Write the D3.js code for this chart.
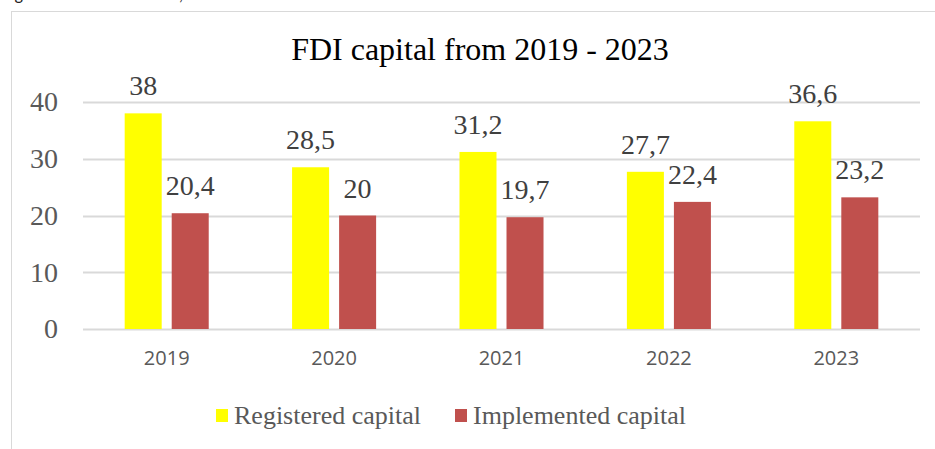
<!DOCTYPE html>
<html lang="en">
<head>
  <meta charset="UTF-8">
  <title>FDI capital from 2019 - 2023</title>
  <style>
  body { margin: 0; background: #fff; }
  </style>
</head>
<body>
  <div id="chart"></div>
  <script src="https://d3js.org/d3.v7.min.js"></script>
  <script>
// data
var years = ["2019", "2020", "2021", "2022", "2023"];
var registered = [38, 28.5, 31.2, 27.7, 36.6];
var implemented = [20.4, 20, 19.7, 22.4, 23.2];
var seriesNames = ["Registered capital", "Implemented capital"];
var seriesColors = ["#ffff00", "#c0504d"];
var yTicks = [0, 10, 20, 30, 40];

var w = 935, h = 449;
var plotLeft = 83, plotRight = 920, plotTop = 102, plotBottom = 329;
var serif = "'Liberation Serif', 'Times New Roman', serif";
var sans = "'Open Sans', 'Liberation Sans', sans-serif";

var svg = d3.select("#chart").append("svg")
    .attr("width", w)
    .attr("height", h);

// caption above the frame, mostly cut off by the page edge
svg.append("text")
    .attr("x", 2)
    .attr("y", 0)
    .style("font-family", "Carlito, 'Liberation Sans', sans-serif")
    .style("font-size", "18px")
    .attr("fill", "#222")
    .text("Figure 1. FDI investment, from 2019 to 2023");

// chart frame
svg.append("rect")
    .attr("x", 11.5)
    .attr("y", 11.5)
    .attr("width", 960)
    .attr("height", 480)
    .attr("fill", "none")
    .attr("stroke", "#d9d9d9");

var x0 = d3.scaleBand().domain(years).range([plotLeft, plotRight]).paddingInner(0.498).paddingOuter(0.249);
var x1 = d3.scaleBand().domain([0, 1]).range([0, x0.bandwidth()]).paddingInner(0.213);
var y = d3.scaleLinear().domain([0, 40]).range([plotBottom, plotTop]);

// gridlines
svg.append("g").selectAll("line")
    .data(yTicks).enter()
    .append("line")
    .attr("x1", plotLeft).attr("x2", plotRight)
    .attr("y1", function(d) { return Math.round(y(d)) + 0.5; })
    .attr("y2", function(d) { return Math.round(y(d)) + 0.5; })
    .attr("stroke", "#d9d9d9")
    .attr("stroke-width", 2);

// y axis labels
var yAxis = d3.axisLeft(y).tickValues(yTicks).tickSize(0).tickPadding(0);
var gy = svg.append("g")
    .attr("transform", "translate(58,0)")
    .call(yAxis)
    .attr("font-family", null)
    .attr("font-size", null);
gy.select(".domain").remove();
gy.selectAll("text")
    .style("font-size", "28px")
    .style("font-family", serif)
    .attr("fill", "#595959")
    .attr("dy", "0.32em");

// x axis labels
var xAxis = d3.axisBottom(x0).tickSize(0).tickPadding(0);
var gx = svg.append("g")
    .attr("transform", "translate(0," + (plotBottom + 22) + ")")
    .call(xAxis)
    .attr("font-family", null)
    .attr("font-size", null);
gx.select(".domain").remove();
gx.selectAll("text")
    .style("font-family", sans)
    .style("font-size", "20px")
    .attr("fill", "#595959");

var rows = [];
years.forEach(function(yr, i) {
  rows.push({ year: yr, s: 0, v: registered[i] });
  rows.push({ year: yr, s: 1, v: implemented[i] });
});

// bars
svg.append("g").selectAll("rect")
    .data(rows).enter()
    .append("rect")
    .attr("x", function(d) { return x0(d.year) + x1(d.s); })
    .attr("y", function(d) { return y(d.v); })
    .attr("width", x1.bandwidth())
    .attr("height", function(d) { return plotBottom - y(d.v); })
    .attr("fill", function(d) { return seriesColors[d.s]; });

// value labels (comma decimals)
svg.append("g").selectAll("text")
    .data(rows).enter()
    .append("text")
    .attr("x", function(d) { return x0(d.year) + x1(d.s) + x1.bandwidth() / 2; })
    .attr("y", function(d) { return y(d.v) - 18; })
    .attr("text-anchor", "middle")
    .style("font-family", serif)
    .style("font-size", "28px")
    .attr("fill", "#404040")
    .text(function(d) { return String(d.v).replace(".", ","); });

// title
svg.append("text")
    .attr("x", 480)
    .attr("y", 60)
    .attr("text-anchor", "middle")
    .style("font-family", serif)
    .style("font-size", "32px")
    .attr("fill", "#000")
    .text("FDI capital from 2019 - 2023");

// legend
var legendX = [216, 455];
var lg = svg.append("g").selectAll("g")
    .data(seriesNames).enter()
    .append("g")
    .attr("transform", function(d, i) { return "translate(" + legendX[i] + ",409)"; });
lg.append("rect")
    .attr("width", 12).attr("height", 13)
    .attr("fill", function(d, i) { return seriesColors[i]; });
lg.append("text")
    .attr("x", 18)
    .attr("y", 15)
    .style("font-family", serif)
    .style("font-size", "26px")
    .attr("fill", "#595959")
    .text(function(d) { return d; });
  </script>
</body>
</html>
